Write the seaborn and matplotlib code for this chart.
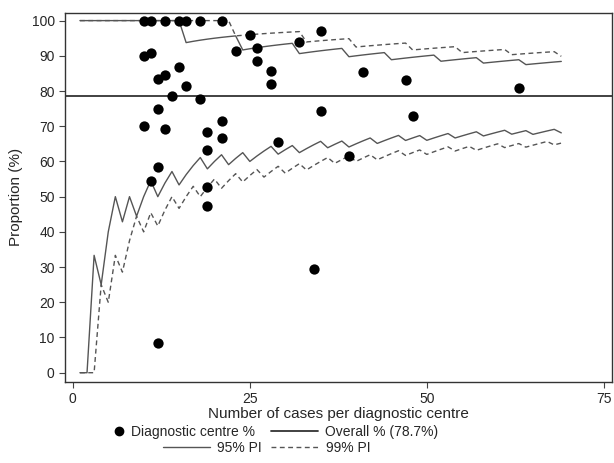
import matplotlib
matplotlib.use("Agg")
import matplotlib.pyplot as plt
import numpy as np
import pandas as pd
import seaborn as sns
from matplotlib.lines import Line2D

# Diagnostic centres: number of cases and proportion (%)
centre_cases = [10, 11, 13, 15, 16, 18, 21, 25, 35, 10, 11, 12, 13, 15, 16, 14, 18,
                23, 26, 26, 28, 28, 32, 12, 10, 13, 19, 21, 21, 19, 29, 12, 11, 19,
                35, 41, 47, 63, 48, 39, 19, 34, 12]
centre_pct = [100, 100, 100, 100, 100, 100, 100, 96.0, 97.1, 90.0, 90.9, 83.3, 84.6,
              86.7, 81.3, 78.6, 77.8, 91.3, 92.3, 88.5, 85.7, 82.1, 93.8, 75.0, 70.0,
              69.2, 68.4, 71.4, 66.7, 63.2, 65.5, 58.3, 54.5, 52.6, 74.3, 85.4, 83.0,
              81.0, 72.9, 61.5, 47.4, 29.4, 8.3]

overall_pct = 78.7

# Prediction interval limits, as counts of cases at each n
pi_n = list(range(1, 70))
lo95 = [0, 0, 1, 1, 2, 3, 3, 4, 4, 5, 6, 6, 7, 8, 8, 9, 10, 11, 11, 12, 13, 13, 14,
        15, 15, 16, 17, 18, 18, 19, 20, 20, 21, 22, 23, 23, 24, 25, 25, 26, 27, 28,
        28, 29, 30, 31, 31, 32, 33, 33, 34, 35, 36, 36, 37, 38, 39, 39, 40, 41, 42,
        42, 43, 44, 44, 45, 46, 47, 47]
hi95 = [1, 2, 3, 4, 5, 6, 7, 8, 9, 10, 11, 12, 13, 14, 15, 15, 16, 17, 18, 19, 20,
        21, 22, 22, 23, 24, 25, 26, 27, 28, 29, 29, 30, 31, 32, 33, 34, 35, 35, 36,
        37, 38, 39, 40, 40, 41, 42, 43, 44, 45, 46, 46, 47, 48, 49, 50, 51, 51, 52,
        53, 54, 55, 56, 56, 57, 58, 59, 60, 61]
lo99 = [0, 0, 0, 1, 1, 2, 2, 3, 4, 4, 5, 5, 6, 7, 7, 8, 9, 9, 10, 11, 11, 12, 13,
        13, 14, 15, 15, 16, 17, 17, 18, 19, 19, 20, 21, 22, 22, 23, 24, 24, 25, 26,
        26, 27, 28, 29, 29, 30, 31, 31, 32, 33, 34, 34, 35, 36, 36, 37, 38, 39, 39,
        40, 41, 41, 42, 43, 44, 44, 45]
hi99 = [1, 2, 3, 4, 5, 6, 7, 8, 9, 10, 11, 12, 13, 14, 15, 16, 17, 18, 19, 20, 21,
        22, 22, 23, 24, 25, 26, 27, 28, 29, 30, 31, 31, 32, 33, 34, 35, 36, 37, 37,
        38, 39, 40, 41, 42, 43, 44, 44, 45, 46, 47, 48, 49, 50, 50, 51, 52, 53, 54,
        55, 56, 56, 57, 58, 59, 60, 61, 62, 62]

x_ticks = [0, 25, 50, 75]
y_ticks = [0, 10, 20, 30, 40, 50, 60, 70, 80, 90, 100]

sns.set_style("ticks")
plt.rcParams["font.family"] = ["Liberation Sans", "DejaVu Sans"]

n_arr = np.array(pi_n)
limits = pd.DataFrame({
    "n": pi_n,
    "lo95": np.array(lo95) / n_arr * 100,
    "hi95": np.array(hi95) / n_arr * 100,
    "lo99": np.array(lo99) / n_arr * 100,
    "hi99": np.array(hi99) / n_arr * 100,
})
centres = pd.DataFrame({"cases": centre_cases, "pct": centre_pct})

fig = plt.figure(figsize=(6.14, 4.63), dpi=100)
ax = fig.add_axes([0.106, 0.176, 0.890, 0.797])

line_dark = "#333333"
pi_color = "#555555"
dash = (0, (3.5, 2.5))

ax.axhline(overall_pct, color=line_dark, lw=1.3, zorder=2)

for col in ["lo95", "hi95"]:
    sns.lineplot(data=limits, x="n", y=col, ax=ax, color=pi_color, lw=1.0,
                 estimator=None, zorder=3)
for col in ["lo99", "hi99"]:
    sns.lineplot(data=limits, x="n", y=col, ax=ax, color=pi_color, lw=1.0,
                 linestyle=dash, estimator=None, zorder=3)

sns.scatterplot(data=centres, x="cases", y="pct", ax=ax, color="black", s=55,
                edgecolor="black", linewidth=0, zorder=4)

ax.set_xlim(-1.1, 76.1)
ax.set_ylim(-2.5, 102.3)
ax.set_xticks(x_ticks)
ax.set_yticks(y_ticks)
ax.tick_params(axis="both", labelsize=10, length=4, width=0.8, color="#444444")
for side in ["top", "right", "left", "bottom"]:
    ax.spines[side].set_visible(True)
    ax.spines[side].set_color(line_dark)
    ax.spines[side].set_linewidth(1.0)

ax.set_xlabel("Number of cases per diagnostic centre", fontsize=11, labelpad=1)
ax.set_ylabel("Proportion (%)", fontsize=11, labelpad=6)

# legend, laid out in two centred rows
leg_kw = dict(frameon=False, fontsize=10, handletextpad=0.5, borderpad=0)
dot_leg = fig.legend(
    [Line2D([], [], marker="o", color="black", linestyle="none", markersize=6)],
    ["Diagnostic centre %"], loc="center right", bbox_to_anchor=(0.427, 0.067),
    handlelength=0.8, **leg_kw)
overall_leg = fig.legend(
    [Line2D([], [], color=line_dark, lw=1.3)], ["Overall % (78.7%)"],
    loc="center left", bbox_to_anchor=(0.430, 0.067), handlelength=3.4, **leg_kw)
pi_leg = fig.legend(
    [Line2D([], [], color=pi_color, lw=1.0),
     Line2D([], [], color=pi_color, lw=1.0, linestyle=dash)],
    ["95% PI", "99% PI"], loc="center", bbox_to_anchor=(0.434, 0.032), ncol=2,
    handlelength=3.4, columnspacing=0.7, **leg_kw)

fig.savefig("out.png", dpi=100)
